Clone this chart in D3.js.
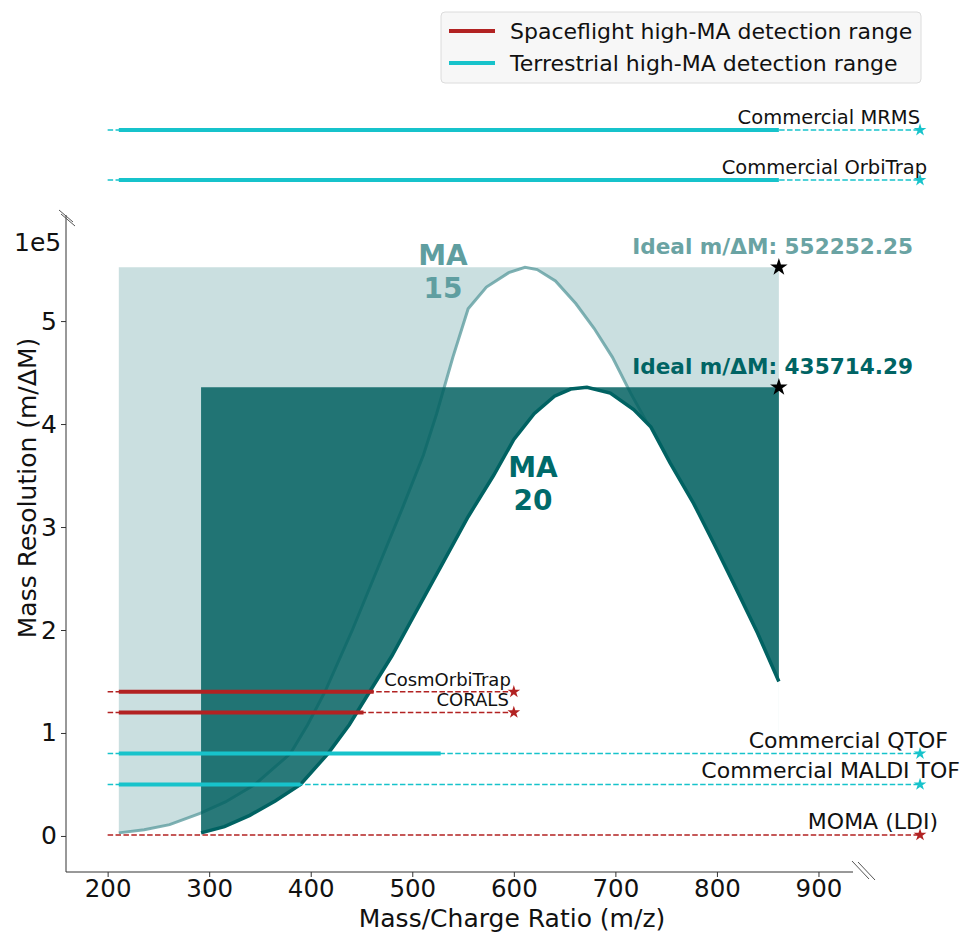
<!DOCTYPE html>
<html><head><meta charset="utf-8">
<script src="https://cdn.jsdelivr.net/npm/d3@7"></script>
<style>body{margin:0;background:#fff} svg{display:block;font-family:"DejaVu Sans",sans-serif}</style>
</head><body><svg id="c" width="961" height="932"></svg>
<script>
// ---------------- data ----------------
const xTicks = [200, 300, 400, 500, 600, 700, 800, 900];
const yTicks = [0, 100000, 200000, 300000, 400000, 500000];
const yTickLabels = ["0", "1", "2", "3", "4", "5"];

// MA 15 curve (m/z, resolution)
const ma15Mz  = [211, 236, 261, 291, 316, 345, 366, 380, 397, 414, 441, 466, 491, 511, 524, 540, 555, 573, 595, 611, 623, 641, 661, 679, 697, 715, 733, 750, 775, 800, 830, 861];
const ma15Res = [3000, 6000, 11000, 22000, 33000, 50000, 68000, 80000, 108000, 140000, 200000, 260000, 320000, 370000, 410000, 465000, 512000, 533000, 547000, 552252, 550000, 539000, 517000, 493000, 465000, 430000, 398000, 345000, 275000, 210000, 145000, 95000];
// MA 20 curve
const ma20Mz  = [292, 315, 340, 365, 390, 417, 438, 458, 480, 505, 530, 555, 580, 600, 620, 640, 656, 672, 695, 718, 735, 754, 777, 797, 816, 840, 861];
const ma20Res = [3000, 9000, 20000, 34000, 50000, 80000, 108000, 140000, 175000, 220000, 265000, 310000, 350000, 385000, 410000, 427000, 434000, 435714, 430000, 414000, 397000, 362000, 323000, 284000, 246000, 197000, 150000];
const idealRes = [552252.25, 435714.29];
const idealMz = 861;

// instruments
const instNames = ["Commercial MRMS", "Commercial OrbiTrap", "CosmOrbiTrap", "CORALS", "Commercial QTOF", "Commercial MALDI TOF", "MOMA (LDI)"];
const instType  = ["terrestrial", "terrestrial", "spaceflight", "spaceflight", "terrestrial", "terrestrial", "spaceflight"];
const instRes   = [10000000, 1000000, 140000, 120000, 80000, 50000, 1000];
const instPanel = ["top", "top", "main", "main", "main", "main", "main"];
const rangeStart = [211, 211, 211, 211, 211, 211, null];
const rangeEnd   = [861, 861, 462, 452, 528, 390, null];
const markerMz   = [1000, 1000, 600, 600, 1000, 1000, 1000];
const dashStartMz = 200;

const legendLabels = ["Spaceflight high-MA detection range", "Terrestrial high-MA detection range"];

// ---------------- style / layout ----------------
const RED = "#b22222", CYAN = "#17c3cb";
const LIGHT = "#5f9ea0", DARK = "#005f5f";
const typeColor = t => t === "spaceflight" ? RED : CYAN;
const labelDx = [0, 7, -3, -5, 28, 40, 18];
const labelSize = [19.5, 19.5, 18, 18, 22, 22, 22];

const svg = d3.select("#c");
const x = d3.scaleLinear().domain([159, 934]).range([66, 853]);
const y = d3.scaleLinear().domain([-35000, 603000]).range([872, 215]);
const yTop = d3.scaleLog().domain([1e6, 1e7]).range([180, 130]);

const ma15 = ma15Mz.map((m, i) => [m, ma15Res[i]]);
const ma20 = ma20Mz.map((m, i) => [m, ma20Res[i]]);

// light (MA15) fill between curve and ideal
svg.append("path").datum(ma15)
  .attr("d", d3.area().x(d => x(d[0])).y0(y(idealRes[0])).y1(d => y(d[1])))
  .attr("fill", LIGHT).attr("fill-opacity", 0.33);
svg.append("path").datum(ma15)
  .attr("d", d3.line().x(d => x(d[0])).y(d => y(d[1])))
  .attr("fill", "none").attr("stroke", LIGHT).attr("stroke-opacity", 0.8).attr("stroke-width", 3);
// white below MA20 curve
svg.append("path").datum(ma20)
  .attr("d", d3.area().x(d => x(d[0])).y0(y(0)).y1(d => y(d[1])))
  .attr("fill", "#fff");
// dark fill
svg.append("path").datum(ma20)
  .attr("d", d3.area().x(d => x(d[0])).y0(y(idealRes[1])).y1(d => y(d[1])))
  .attr("fill", DARK).attr("fill-opacity", 0.84);
svg.append("path").datum(ma20)
  .attr("d", d3.line().x(d => x(d[0])).y(d => y(d[1])))
  .attr("fill", "none").attr("stroke", "#006262").attr("stroke-width", 3.5);

// instrument lines
const yOf = i => instPanel[i] === "top" ? yTop(instRes[i]) : y(instRes[i]);
instNames.forEach((name, i) => {
  const c = typeColor(instType[i]);
  const yy = yOf(i);
  svg.append("line").attr("x1", x(dashStartMz)).attr("x2", x(markerMz[i]))
    .attr("y1", yy).attr("y2", yy).attr("stroke", c).attr("stroke-width", 1.5)
    .attr("stroke-dasharray", "5.5,2.4");
  if (rangeStart[i] !== null) {
    svg.append("line").attr("x1", x(rangeStart[i])).attr("x2", x(rangeEnd[i]))
      .attr("y1", yy).attr("y2", yy).attr("stroke", c).attr("stroke-width", 4);
  }
  svg.append("path").attr("d", d3.symbol(d3.symbolStar).size(50)())
    .attr("transform", `translate(${x(markerMz[i])},${yy})`).attr("fill", c);
  svg.append("text").attr("x", x(markerMz[i]) + labelDx[i]).attr("y", yy - 6)
    .attr("text-anchor", "end").attr("font-size", labelSize[i]).attr("fill", "#111").text(name);
});

// ideal stars and labels
const idealColors = ["#6aa3a3", "#006464"];
idealRes.forEach((r, i) => {
  svg.append("path").attr("d", d3.symbol(d3.symbolStar).size(95)())
    .attr("transform", `translate(${x(idealMz)},${y(r)})`).attr("fill", "#000");
  svg.append("text").attr("x", 913).attr("y", y(r) - 13).attr("text-anchor", "end")
    .attr("font-size", 21.6).attr("font-weight", "bold").attr("fill", idealColors[i])
    .text("Ideal m/ΔM: " + d3.format(".2f")(r));
});

// MA labels
[["MA", "15", 443, 265, "#5f9ea0"], ["MA", "20", 533, 477, "#006a6a"]].forEach(([a, b, cx, by, col]) => {
  const t = svg.append("text").attr("text-anchor", "middle").attr("font-size", 28)
    .attr("font-weight", "bold").attr("fill", col);
  t.append("tspan").attr("x", cx).attr("y", by).text(a);
  t.append("tspan").attr("x", cx).attr("y", by + 33).text(b);
});

// axes
const axisCol = "#333";
svg.append("line").attr("x1", 66).attr("x2", 853).attr("y1", 872).attr("y2", 872).attr("stroke", axisCol).attr("stroke-width", 1);
svg.append("line").attr("x1", 66).attr("x2", 66).attr("y1", 215).attr("y2", 872).attr("stroke", axisCol).attr("stroke-width", 1);
const gx = svg.append("g").attr("transform", "translate(0,872)")
  .call(d3.axisBottom(x).tickValues(xTicks).tickSize(5).tickPadding(3));
gx.select(".domain").remove();
gx.selectAll("text").attr("font-size", 24.5).attr("font-family", "DejaVu Sans").attr("fill", "#111");
gx.selectAll("line").attr("stroke", axisCol);
const gy = svg.append("g").attr("transform", "translate(66,0)")
  .call(d3.axisLeft(y).tickValues(yTicks).tickFormat((d, i) => yTickLabels[i]).tickSize(5).tickPadding(4));
gy.select(".domain").remove();
gy.selectAll("text").attr("font-size", 25).attr("font-family", "DejaVu Sans").attr("fill", "#111");
gy.selectAll("line").attr("stroke", axisCol);
svg.append("text").attr("x", 14).attr("y", 251).attr("font-size", 25).attr("fill", "#111").text("1e5");
svg.append("text").attr("x", 512).attr("y", 927).attr("text-anchor", "middle").attr("font-size", 25).attr("fill", "#111").text("Mass/Charge Ratio (m/z)");
svg.append("text").attr("transform", "translate(36,488) rotate(-90)").attr("text-anchor", "middle").attr("font-size", 25).attr("fill", "#111").text("Mass Resolution (m/ΔM)");

// break marks
[[59, 210], [61, 214]].forEach(([a, b]) => svg.append("line").attr("x1", a).attr("y1", b).attr("x2", a + 14).attr("y2", b + 12).attr("stroke", "#555").attr("stroke-width", 1));
[[852, 861], [858, 862]].forEach(([a, b]) => svg.append("line").attr("x1", a).attr("y1", b).attr("x2", a + 17).attr("y2", b + 18).attr("stroke", "#555").attr("stroke-width", 1));

// legend
const lg = svg.append("g");
lg.append("rect").attr("x", 441).attr("y", 12).attr("width", 480).attr("height", 71).attr("rx", 4)
  .attr("fill", "#f7f7f7").attr("stroke", "#dcdcdc");
legendLabels.forEach((l, i) => {
  const yy = 31 + i * 32;
  lg.append("line").attr("x1", 449).attr("x2", 495).attr("y1", yy).attr("y2", yy)
    .attr("stroke", i === 0 ? RED : CYAN).attr("stroke-width", 4);
  lg.append("text").attr("x", 510).attr("y", yy + 8).attr("font-size", 22).attr("fill", "#111").text(l);
});
</script></body></html>
